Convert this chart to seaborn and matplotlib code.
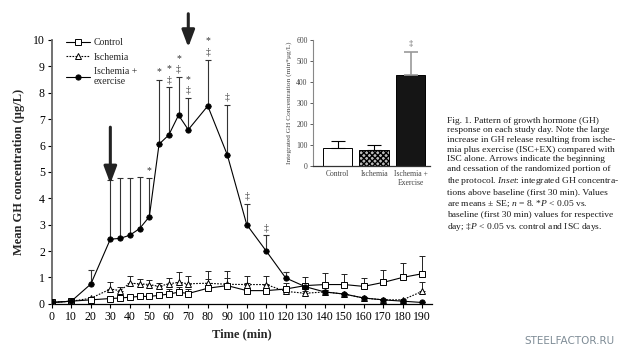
import matplotlib
matplotlib.use("Agg")
import matplotlib.pyplot as plt
import numpy as np
import pandas as pd
import seaborn as sns

# --- data ---
times = [0, 10, 20, 30, 35, 40, 45, 50, 55, 60, 65, 70, 80, 90,
         100, 110, 120, 130, 140, 150, 160, 170, 180, 190]

control_mean = [0.05, 0.1, 0.15, 0.2, 0.22, 0.25, 0.28, 0.28, 0.32, 0.37, 0.44, 0.39, 0.59, 0.69,
                0.5, 0.5, 0.56, 0.69, 0.73, 0.73, 0.66, 0.81, 1.0, 1.14]
control_se = [0, 0, 0.03, 0.05, 0.05, 0.06, 0.07, 0.07, 0.08, 0.18, 0.2, 0.16, 0.35, 0.3,
              0.27, 0.25, 0.22, 0.34, 0.42, 0.39, 0.31, 0.48, 0.56, 0.66]

ischemia_mean = [0.05, 0.1, 0.21, 0.56, 0.5, 0.78, 0.76, 0.73, 0.66, 0.76, 0.81, 0.76, 0.78, 0.74,
                 0.73, 0.73, 0.47, 0.4, 0.45, 0.37, 0.22, 0.15, 0.15, 0.47]
ischemia_se = [0, 0, 0.03, 0.26, 0.13, 0.29, 0.17, 0.18, 0.12, 0.21, 0.38, 0.31, 0.48, 0.52,
               0.34, 0.31, 0.15, 0.1, 0.08, 0.05, 0.04, 0.03, 0.03, 0.35]

exercise_mean = [0.05, 0.1, 0.75, 2.45, 2.48, 2.6, 2.85, 3.3, 6.05, 6.4, 7.15, 6.6, 7.5, 5.65,
                 3.0, 2.0, 0.98, 0.65, 0.45, 0.37, 0.22, 0.15, 0.1, 0.05]
exercise_se = [0, 0, 0.55, 2.25, 2.27, 2.15, 1.95, 1.45, 2.45, 1.8, 1.45, 1.2, 1.75, 1.9,
               0.8, 0.6, 0.22, 0.1, 0.08, 0.05, 0.03, 0.02, 0.02, 0.01]

# significance marks above the exercise curve
sig_times = [50, 55, 60, 65, 70, 80, 90, 100, 110]
sig_marks = ["*", "*", "‡*", "‡*", "‡*", "‡*", "‡", "‡", "‡"]

arrow_times = [30, 70]

# inset: integrated GH above baseline
inset_groups = ["Control", "Ischemia", "Ischemia +\nExercise"]
inset_values = [84, 75, 433]
inset_se = [36, 25, 112]

caption_lines = [
    "Fig. 1. Pattern of growth hormone (GH)",
    "response on each study day. Note the large",
    "increase in GH release resulting from ische-",
    "mia plus exercise (ISC+EX) compared with",
    "ISC alone. Arrows indicate the beginning",
    "and cessation of the randomized portion of",
    r"the protocol. $\mathit{Inset}$: integrated GH concentra-",
    "tions above baseline (first 30 min). Values",
    r"are means ± SE; $\mathit{n}$ = 8. *$\mathit{P}$ < 0.05 vs.",
    "baseline (first 30 min) values for respective",
    r"day; ‡$\mathit{P}$ < 0.05 vs. control and ISC days.",
]

sns.set_theme(style="ticks")
plt.rcParams["font.family"] = ["Liberation Serif", "DejaVu Serif"]
plt.rcParams["mathtext.fontset"] = "custom"
plt.rcParams["mathtext.rm"] = "Liberation Serif"
plt.rcParams["mathtext.it"] = "Liberation Serif:italic"
plt.rcParams["mathtext.bf"] = "Liberation Serif:bold"

fig = plt.figure(figsize=(6.25, 3.57), dpi=100)
ax = fig.add_axes([0.083, 0.149, 0.608, 0.739])

zeros = np.zeros(len(times))

# error bars (upper only)
ax.errorbar(times, control_mean, yerr=[zeros, control_se], fmt="none",
            ecolor="#222222", elinewidth=0.7, capsize=2, capthick=0.7, zorder=2)
ax.errorbar(times, ischemia_mean, yerr=[zeros, ischemia_se], fmt="none",
            ecolor="#222222", elinewidth=0.7, capsize=2, capthick=0.7, zorder=2)
ax.errorbar(times, exercise_mean, yerr=[zeros, exercise_se], fmt="none",
            ecolor="#333333", elinewidth=0.8, capsize=2.5, capthick=0.8, zorder=2)

sns.lineplot(x=times, y=ischemia_mean, ax=ax, color="black", lw=0.8, linestyle=(0, (1.5, 1.2)),
             marker="^", markersize=4.3, markerfacecolor="white", markeredgecolor="black",
             markeredgewidth=0.7, label="Ischemia", zorder=3)
sns.lineplot(x=times, y=control_mean, ax=ax, color="black", lw=0.8,
             marker="s", markersize=4.2, markerfacecolor="white", markeredgecolor="black",
             markeredgewidth=0.7, label="Control", zorder=4)
sns.lineplot(x=times, y=exercise_mean, ax=ax, color="black", lw=0.8,
             marker="o", markersize=3.7, markerfacecolor="black", markeredgecolor="black",
             label="Ischemia +\nexercise", zorder=5)

# significance symbols
ex_top = dict(zip(times, np.array(exercise_mean) + np.array(exercise_se)))
for t, marks in zip(sig_times, sig_marks):
    y = ex_top[t] + 0.12
    for m in marks:
        ax.text(t, y, m, ha="center", va="bottom", fontsize=7, color="#333333")
        y += 0.42

# arrows marking start/end of randomized portion
ax.annotate("", xy=(arrow_times[0], 4.45), xytext=(arrow_times[0], 6.8),
            arrowprops=dict(arrowstyle="-|>,head_width=0.32,head_length=0.85",
                            lw=2.2, color="#222222"), annotation_clip=False)
ax.annotate("", xy=(arrow_times[1], 9.62), xytext=(arrow_times[1], 11.1),
            arrowprops=dict(arrowstyle="-|>,head_width=0.32,head_length=0.85",
                            lw=2.2, color="#222222"), annotation_clip=False)

ax.set_xlim(0, 195)
ax.set_ylim(0, 10)
ax.set_xticks(range(0, 200, 10))
ax.set_yticks(range(0, 11))
ax.tick_params(labelsize=8.5, length=3, width=0.8, colors="black", pad=2)
ax.set_xlabel("Time (min)", fontsize=9, fontweight="bold", labelpad=4)
ax.set_ylabel("Mean GH concentration (μg/L)", fontsize=9, fontweight="bold", labelpad=6)
for side in ["top", "right"]:
    ax.spines[side].set_visible(False)
ax.spines["left"].set_color("#666666")
ax.spines["left"].set_linewidth(1.3)
ax.spines["bottom"].set_color("black")
ax.spines["bottom"].set_linewidth(0.9)
ax.margins(0)

handles, labels = ax.get_legend_handles_labels()
order = [labels.index("Control"), labels.index("Ischemia"), labels.index("Ischemia +\nexercise")]
ax.legend([handles[i] for i in order], [labels[i] for i in order],
          loc="upper left", bbox_to_anchor=(0.015, 1.04), frameon=False,
          fontsize=7, handlelength=2.4, handletextpad=0.4, labelspacing=0.55)

# inset bar chart
ins = fig.add_axes([0.501, 0.535, 0.187, 0.353])
inset_df = pd.DataFrame({"group": inset_groups, "value": inset_values})
sns.barplot(data=inset_df, x="group", y="value", ax=ins, width=0.81,
            color="white", edgecolor="black", linewidth=0.7, errorbar=None)
bars = ins.patches
bars[1].set_facecolor("#bbbbbb")
bars[1].set_hatch("xxxxxx")
bars[2].set_facecolor("#151515")
ins.errorbar([0, 1], inset_values[:2], yerr=[[0, 0], inset_se[:2]], fmt="none",
             ecolor="black", elinewidth=0.8, capsize=5, capthick=0.8)
ins.errorbar([2], inset_values[2:], yerr=[[0], inset_se[2:]], fmt="none",
             ecolor="#999999", elinewidth=1.2, capsize=5, capthick=1.2)
ins.text(2, inset_values[2] + inset_se[2] + 15, "‡", ha="center", va="bottom",
         fontsize=6, color="#555555")
ins.set_xlim(-0.67, 2.53)
ins.set_ylim(0, 600)
ins.set_yticks(range(0, 700, 100))
ins.tick_params(axis="y", labelsize=5.5, length=2.5, width=0.6, pad=1.5, colors="#444444")
ins.tick_params(axis="x", labelsize=5.5, length=0, pad=3, colors="#444444")
ins.set_xlabel("")
ins.set_ylabel("Integrated GH Concentration (min*μg/L)", fontsize=5.3, color="#444444", labelpad=3)
for side in ["top", "right"]:
    ins.spines[side].set_visible(False)
ins.spines["left"].set_color("#888888")
ins.spines["left"].set_linewidth(0.8)
ins.spines["bottom"].set_color("#333333")
ins.spines["bottom"].set_linewidth(0.9)

# caption
fig.text(0.715, 0.673, "\n".join(caption_lines), fontsize=6.8, va="top", ha="left",
         linespacing=1.27, color="#1a1a1a")

# watermark
fig.text(0.983, 0.045, "STEELFACTOR.RU", fontsize=7.5, family="DejaVu Sans",
         color="#7f8c96", ha="right", va="center")

fig.savefig("out.png", dpi=100)
